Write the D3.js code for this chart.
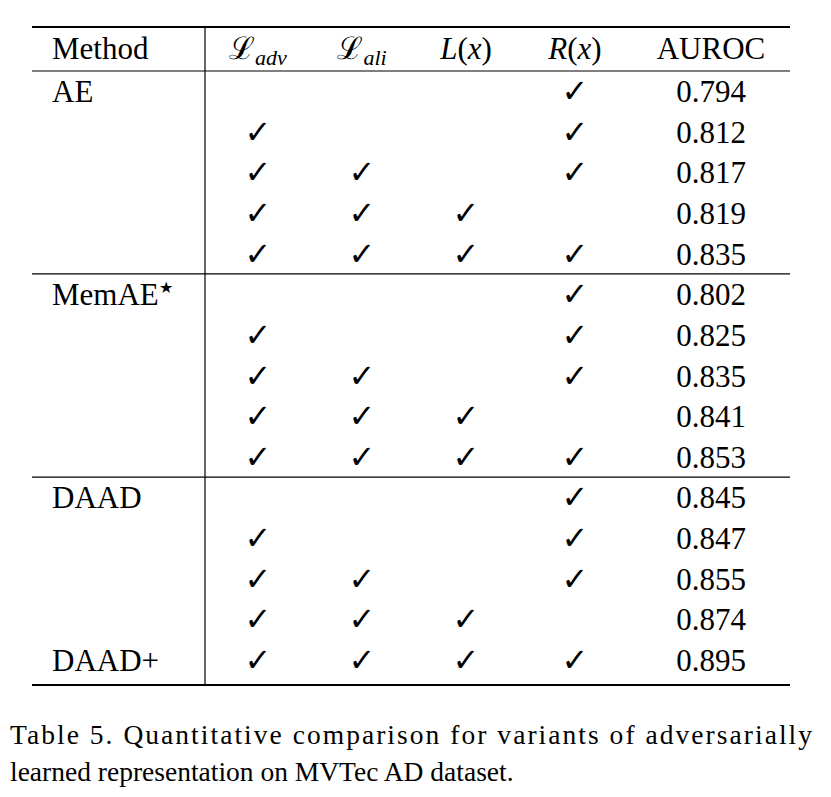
<!DOCTYPE html>
<html><head><meta charset="utf-8">
<script src="https://cdn.jsdelivr.net/npm/d3@7"></script>
<style>body{margin:0;background:#fff}</style>
</head><body>
<div id="tbl"></div>
<script>
// table data
const methods = ["AE","","","","","MemAE","","","","","DAAD","","","","DAAD+"];
const useAdv = [0,1,1,1,1, 0,1,1,1,1, 0,1,1,1,1];
const useAli = [0,0,1,1,1, 0,0,1,1,1, 0,0,1,1,1];
const useL   = [0,0,0,1,1, 0,0,0,1,1, 0,0,0,1,1];
const useR   = [1,1,1,0,1, 1,1,1,0,1, 1,1,1,0,1];
const auroc  = ["0.794","0.812","0.817","0.819","0.835","0.802","0.825","0.835","0.841","0.853","0.845","0.847","0.855","0.874","0.895"];
const groupEnds = [4, 9];
const captionLines = ["Table 5. Quantitative comparison for variants of adversarially",
                      "learned representation on MVTec AD dataset."];

const W = 831, H = 797;
const svg = d3.select("#tbl").append("svg").attr("width", W).attr("height", H)
    .style("font-family", "'Liberation Serif', 'Times New Roman', serif");

let y = d3.scaleLinear().domain([0, methods.length - 1]).range([91, 660]);
let colX = {adv: 258, ali: 362, L: 466, R: 575, auc: 711};

// rules
let rule = (y0, w) => svg.append("line").attr("x1", 32).attr("x2", 790)
    .attr("y1", y0).attr("y2", y0).attr("stroke", "#000").attr("stroke-width", w);
rule(27, 1.8);
rule(71, 1.2);
groupEnds.forEach(i => rule((y(i) + y(i + 1)) / 2, 1.2));
rule(685, 1.8);
svg.append("line").attr("x1", 205).attr("x2", 205).attr("y1", 27).attr("y2", 685)
    .attr("stroke", "#000").attr("stroke-width", 1.2);

// header
let hy = 59, fs = 31;
svg.append("text").attr("x", 52).attr("y", hy).attr("font-size", fs).text("Method");
function mathHead(x, main, sub) {
    let t = svg.append("text").attr("x", x).attr("y", hy).attr("font-size", fs)
        .attr("text-anchor", "middle");
    t.append("tspan").attr("font-family", "'DejaVu Serif', serif").text(main);
    t.append("tspan").attr("font-size", 22).attr("font-style", "italic")
        .attr("dy", 6).text(sub);
}
mathHead(colX.adv, "ℒ", "adv");
mathHead(colX.ali, "ℒ", "ali");
function fnHead(x, name) {
    let t = svg.append("text").attr("x", x).attr("y", hy).attr("font-size", fs).attr("text-anchor", "middle");
    t.append("tspan").attr("font-style", "italic").text(name);
    t.append("tspan").text("(");
    t.append("tspan").attr("font-style", "italic").text("x");
    t.append("tspan").text(")");
}
fnHead(colX.L, "L");
fnHead(colX.R, "R");
svg.append("text").attr("x", colX.auc).attr("y", hy).attr("font-size", fs)
    .attr("text-anchor", "middle").text("AUROC");

// rows
let rows = svg.selectAll("g.row").data(d3.range(methods.length)).enter()
    .append("g").attr("class", "row").attr("transform", i => `translate(0, ${y(i) + 11})`);
rows.append("text").attr("x", 52).attr("font-size", fs).each(function(i) {
    let t = d3.select(this);
    if (methods[i] === "MemAE") {
        t.append("tspan").text("MemAE");
        t.append("tspan").attr("font-size", 16).attr("dy", -12).text("★");
    } else t.text(methods[i]);
});
[[useAdv, colX.adv], [useAli, colX.ali], [useL, colX.L], [useR, colX.R]].forEach(([arr, x]) => {
    rows.filter(i => arr[i]).append("text").attr("x", x).attr("font-size", 32)
        .attr("font-family", "'DejaVu Sans', sans-serif")
        .attr("text-anchor", "middle").text("✓");
});
rows.append("text").attr("x", colX.auc).attr("font-size", fs)
    .attr("text-anchor", "middle").text(i => auroc[i]);

// caption
svg.append("text").attr("x", 10).attr("y", 744).attr("font-size", 27.5)
    .attr("textLength", 802).attr("lengthAdjust", "spacing").text(captionLines[0]);
svg.append("text").attr("x", 10).attr("y", 781).attr("font-size", 27.5).text(captionLines[1]);
</script>
</body></html>
